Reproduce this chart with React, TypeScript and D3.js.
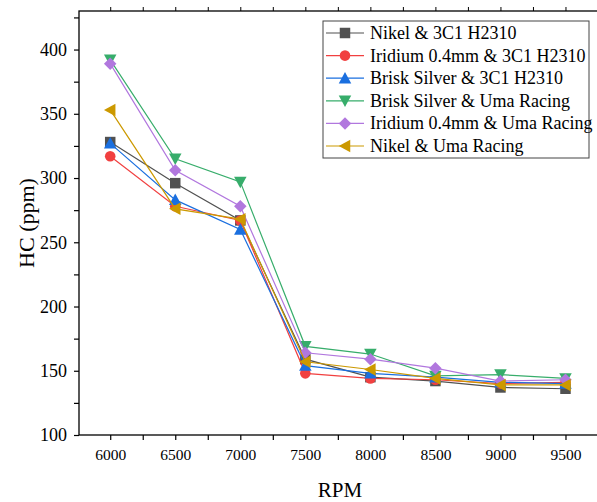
import * as d3 from "d3";
import { useEffect, useRef } from "react";

const rpm = [6000, 6500, 7000, 7500, 8000, 8500, 9000, 9500];

const seriesNames = [
  "Nikel & 3C1 H2310",
  "Iridium 0.4mm & 3C1 H2310",
  "Brisk Silver & 3C1 H2310",
  "Brisk Silver & Uma Racing",
  "Iridium 0.4mm & Uma Racing",
  "Nikel & Uma Racing",
];

const nikel3c1 = [328, 296, 267, 159, 145, 142, 137, 136];
const iridium3c1 = [317, 278, 267, 148, 144, 143, 140, 141];
const brisk3c1 = [327, 283, 260, 154, 148, 145, 141, 140];
const briskUma = [392, 315, 297, 169, 163, 146, 147, 144];
const iridiumUma = [389, 306, 278, 164, 159, 152, 142, 143];
const nikelUma = [353, 276, 268, 157, 151, 144, 139, 139];

const yTicks = [100, 150, 200, 250, 300, 350, 400];

const colors = ["#515151", "#F14040", "#1A6FDF", "#37AD6B", "#B177DE", "#CC9900"];
const symbols = ["square", "circle", "up", "down", "diamond", "left"];

function markerPath(kind: string, s: number) {
  const h = s / 2;
  switch (kind) {
    case "square":
      return `M${-h},${-h}H${h}V${h}H${-h}Z`;
    case "up":
      return `M0,${-h - 1}L${h + 1},${h}L${-h - 1},${h}Z`;
    case "down":
      return `M0,${h + 1}L${h + 1},${-h}L${-h - 1},${-h}Z`;
    case "left":
      return `M${-h - 1},0L${h},${-h - 1}L${h},${h + 1}Z`;
    case "diamond":
      return `M0,${-h - 1}L${h + 1},0L0,${h + 1}L${-h - 1},0Z`;
    default:
      return d3.symbol(d3.symbolCircle, s * s * 0.8)() as string;
  }
}

export default function App() {
  const ref = useRef<SVGSVGElement>(null);

  useEffect(() => {
    const width = 597;
    const height = 502;
    const margin = { top: 11, right: -1, bottom: 67, left: 79 };
    const font = "'Liberation Serif', 'Times New Roman', serif";

    const svg = d3.select(ref.current);
    svg.selectAll("*").remove();
    svg.attr("width", width).attr("height", height);

    const x = d3
      .scaleLinear()
      .domain([5760, 9750])
      .range([margin.left, width - margin.right]);
    const y = d3
      .scaleLinear()
      .domain([100, 430])
      .range([height - margin.bottom, margin.top]);

    const data = [nikel3c1, iridium3c1, brisk3c1, briskUma, iridiumUma, nikelUma];

    // frame
    svg
      .append("rect")
      .attr("x", margin.left)
      .attr("y", margin.top)
      .attr("width", width - margin.left - margin.right)
      .attr("height", height - margin.top - margin.bottom)
      .attr("fill", "none")
      .attr("stroke", "#000")
      .attr("stroke-width", 1.3);

    // x axis
    const xAxis = svg
      .append("g")
      .attr("transform", `translate(0,${height - margin.bottom})`)
      .call(
        d3
          .axisBottom(x)
          .tickValues(d3.range(5750, 9751, 250).filter((v) => v >= 5760))
          .tickSize(5)
          .tickSizeOuter(0)
          .tickFormat((d) => (rpm.includes(+d) ? String(d) : ""))
      );
    xAxis.select(".domain").remove();
    xAxis.selectAll(".tick line").attr("stroke-width", 1.2);
    xAxis
      .selectAll(".tick text")
      .style("font-family", font)
      .style("font-size", "15.5px")
      .attr("dy", "1.1em")
      .attr("fill", "#000");

    // top ticks
    const topAxis = svg
      .append("g")
      .attr("transform", `translate(0,${margin.top})`)
      .call(
        d3
          .axisTop(x)
          .tickValues(d3.range(6000, 9751, 250))
          .tickSize(4)
          .tickSizeOuter(0)
          .tickFormat(() => "")
      );
    topAxis.select(".domain").remove();

    // y axis
    const yAxis = svg
      .append("g")
      .attr("transform", `translate(${margin.left},0)`)
      .call(
        d3
          .axisLeft(y)
          .tickValues(d3.range(100, 426, 25))
          .tickSize(5)
          .tickSizeOuter(0)
          .tickFormat((d) => (yTicks.includes(+d) ? String(d) : ""))
      );
    yAxis.select(".domain").remove();
    yAxis.selectAll(".tick line").attr("stroke-width", 1.2);
    yAxis
      .selectAll(".tick text")
      .style("font-family", font)
      .style("font-size", "18px")
      .attr("x", -12)
      .attr("fill", "#000");

    // axis titles
    svg
      .append("text")
      .attr("x", 340)
      .attr("y", 497)
      .attr("text-anchor", "middle")
      .style("font-family", font)
      .style("font-size", "21px")
      .text("RPM");
    svg
      .append("text")
      .attr("transform", `translate(34,${(margin.top + height - margin.bottom) / 2}) rotate(-90)`)
      .attr("text-anchor", "middle")
      .style("font-family", font)
      .style("font-size", "22px")
      .text("HC (ppm)");

    // series
    const line = d3
      .line<number>()
      .x((d, i) => x(rpm[i]))
      .y((d) => y(d));

    data.forEach((vals, si) => {
      const g = svg.append("g");
      g.append("path")
        .attr("d", line(vals))
        .attr("fill", "none")
        .attr("stroke", colors[si])
        .attr("stroke-width", 1.2);
      g.selectAll("path.m")
        .data(vals)
        .enter()
        .append("path")
        .classed("m", true)
        .attr("d", markerPath(symbols[si], 10.5))
        .attr("transform", (d, i) => `translate(${x(rpm[i])},${y(d)})`)
        .attr("fill", colors[si]);
    });

    // legend
    const legend = svg.append("g").attr("transform", "translate(323,21)");
    legend
      .append("rect")
      .attr("width", 266)
      .attr("height", 137)
      .attr("fill", "#fff")
      .attr("stroke", "#444")
      .attr("stroke-width", 1);
    seriesNames.forEach((name, i) => {
      const row = legend.append("g").attr("transform", `translate(0,${12 + i * 22.6})`);
      row
        .append("line")
        .attr("x1", 3)
        .attr("x2", 41)
        .attr("stroke", colors[i])
        .attr("stroke-width", 1.2);
      row
        .append("path")
        .attr("d", markerPath(symbols[i], 10.5))
        .attr("transform", "translate(22,0)")
        .attr("fill", colors[i]);
      row
        .append("text")
        .attr("x", 47)
        .attr("y", 6)
        .style("font-family", font)
        .style("font-size", "18px")
        .text(name);
    });
  }, []);

  return (
    <svg ref={ref} style={{ position: "absolute", left: 0, top: 0 }}></svg>
  );
}
